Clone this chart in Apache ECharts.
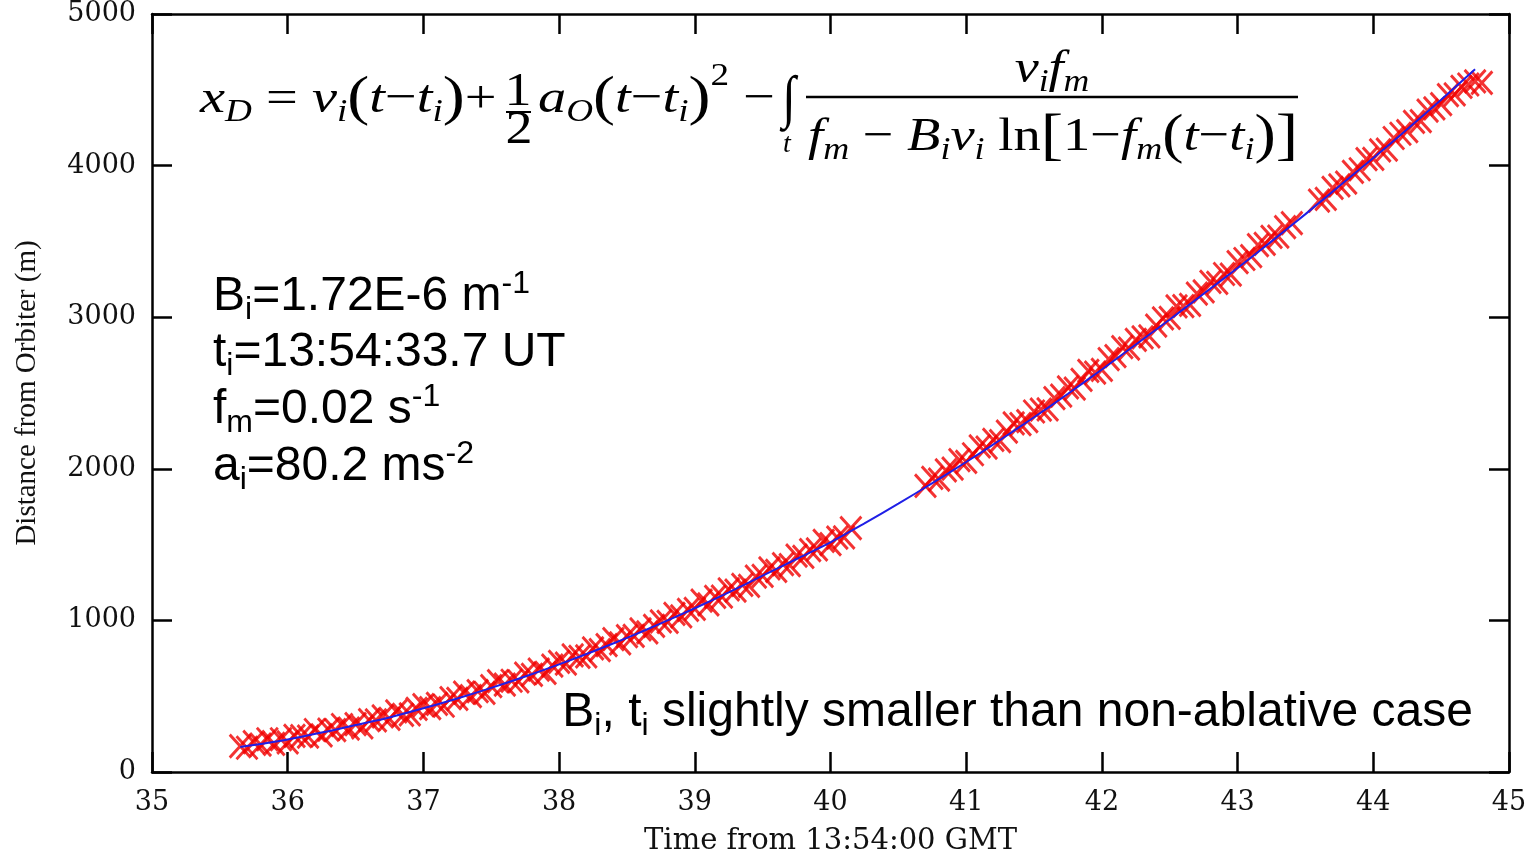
<!DOCTYPE html>
<html><head><meta charset="utf-8">
<script src="https://cdn.jsdelivr.net/npm/echarts@6/dist/echarts.min.js"></script>
<style>html,body{margin:0;padding:0;background:#fff}#c{width:1539px;height:853px}</style>
</head><body><div id="c"></div>
<script>
// ---- data ----
const xTickValues = [35, 36, 37, 38, 39, 40, 41, 42, 43, 44, 45];
const yTickValues = [0, 1000, 2000, 3000, 4000, 5000];

// observed positions (red crosses): time (s after 13:54:00) and distance (m)
const obsTime1 = [35.65,35.7,35.75,35.8,35.85,35.9,35.95,36,36.05,36.1,36.15,36.2,36.25,36.3,36.35,36.4,36.45,36.5,36.55,36.6,36.65,36.7,36.75,36.8,36.85,36.9,36.95,37,37.05,37.1,37.15,37.2,37.25,37.3,37.35,37.4,37.45,37.5,37.55,37.6,37.65,37.7,37.75,37.8,37.85,37.9,37.95,38,38.05,38.1,38.15,38.2,38.25,38.3,38.35,38.4,38.45,38.5,38.55,38.6,38.65,38.7,38.75,38.8,38.85,38.9,38.95,39,39.05,39.1,39.15,39.2,39.25,39.3,39.35,39.4,39.45,39.5,39.55,39.6,39.65,39.7,39.75,39.8,39.85,39.9,39.95,40,40.05,40.1,40.15];
const obsDist1 = [170,160,197,180,216,186,216,195,238,236,233,277,242,280,276,310,286,316,295,342,340,367,350,400,377,380,417,441,422,450,437,487,482,523,500,534,522,566,600,577,602,598,649,641,675,654,702,726,715,769,759,763,816,804,837,876,849,896,898,941,921,964,994,990,1043,1026,1069,1076,1130,1106,1155,1157,1205,1196,1234,1228,1289,1294,1343,1326,1371,1364,1427,1419,1464,1468,1524,1503,1546,1548,1608];
const obsTime2 = [40.7,40.75,40.8,40.85,40.9,40.95,41,41.05,41.1,41.15,41.2,41.25,41.3,41.35,41.4,41.45,41.5,41.55,41.6,41.65,41.7,41.75,41.8,41.85,41.9,41.95,42,42.05,42.1,42.15,42.2,42.25,42.3,42.35,42.4,42.45,42.5,42.55,42.6,42.65,42.7,42.75,42.8,42.85,42.9,42.95,43,43.05,43.1,43.15,43.2,43.25,43.3,43.35,43.4];
const obsDist2 = [1888,1940,1928,1989,2001,2057,2045,2096,2148,2140,2191,2182,2245,2300,2295,2315,2378,2391,2392,2466,2482,2537,2529,2586,2646,2635,2652,2724,2743,2802,2793,2850,2867,2874,2945,2992,2995,3071,3073,3081,3155,3171,3233,3227,3285,3281,3363,3384,3403,3476,3483,3530,3532,3594,3620];
const obsTime3 = [43.6,43.65,43.7,43.75,43.8,43.85,43.9,43.95,44,44.05,44.1,44.15,44.2,44.25,44.3,44.35,44.4,44.45,44.5,44.55,44.6,44.65,44.7,44.75,44.8];
const obsDist3 = [3769,3781,3853,3870,3887,3959,3976,4043,4045,4100,4106,4182,4210,4228,4289,4293,4362,4378,4405,4465,4470,4520,4535,4555,4545];

// fitted model (blue line)
const fitTime = [35.65,36,36.25,36.5,36.75,37,37.25,37.5,37.75,38,38.25,38.5,38.75,39,39.25,39.5,39.75,40,40.25,40.5,40.75,41,41.25,41.5,41.75,42,42.25,42.5,42.75,43,43.25,43.5,43.75,44,44.25,44.5,44.75];
const fitDist = [165,215,260,310,360,420,485,555,630,710,795,885,980,1080,1185,1295,1405,1515,1640,1770,1905,2045,2190,2340,2495,2655,2820,2985,3155,3325,3500,3680,3865,4050,4240,4435,4635];

// ---- build ----
const zip = (a, b) => a.map((v, i) => [v, b[i]]);
const obsData = zip(obsTime1, obsDist1).concat(zip(obsTime2, obsDist2), zip(obsTime3, obsDist3));
const fitData = zip(fitTime, fitDist);

const chart = echarts.init(document.getElementById('c'), null, {renderer: 'canvas'});

const AXC = '#000';
const axisCommon = {
  axisLine: {show: true, onZero: false, lineStyle: {color: AXC, width: 2.5}},
  axisTick: {show: true, inside: true, length: 20, lineStyle: {color: AXC, width: 2.5}},
  splitLine: {show: false}
};
const tickFont = {color: '#111', fontFamily: 'DejaVu Serif', fontSize: 27, formatter: v => String(v)};

// rich text styles
const SER = 'Liberation Serif';
const eqRich = {
  i: {fontFamily: SER, fontStyle: 'italic', fontSize: 47, color: '#000'},
  n: {fontFamily: SER, fontSize: 47, color: '#000'},
  pa: {fontFamily: SER, fontSize: 55, color: '#000'},
  bk: {fontFamily: SER, fontSize: 58, color: '#000'},
  ig: {fontFamily: SER, fontSize: 58, color: '#000'},
  s: {fontFamily: SER, fontStyle: 'italic', fontSize: 31, color: '#000', padding: [26, 0, 0, 0]},
  p: {fontFamily: SER, fontSize: 31, color: '#000', padding: [0, 0, 46, 0]}
};
const SAN = 'Liberation Sans';
const anRich = {
  m: {fontFamily: SAN, fontSize: 48, color: '#000'},
  s: {fontFamily: SAN, fontSize: 32, color: '#000', padding: [26, 0, 0, 0]},
  p: {fontFamily: SAN, fontSize: 32, color: '#000', padding: [0, 0, 26, 0]}
};
function eqText(x, y, text, align, sx) {
  return {type: 'text', x: x, y: y, scaleX: sx || 1.15, z: 100,
    style: {text: text, rich: eqRich, align: align || 'left', verticalAlign: 'middle', fill: '#000'}};
}
function anText(x, y, text, align) {
  return {type: 'text', x: x, y: y, z: 100,
    style: {text: text, rich: anRich, align: align || 'left', verticalAlign: 'middle', fill: '#000'}};
}

const option = {
  animation: false,
  backgroundColor: '#fff',
  grid: {left: 152, top: 14, right: 30, bottom: 81, containLabel: false, outerBoundsMode: 'none'},
  xAxis: [
    Object.assign({}, axisCommon, {
      type: 'value', position: 'bottom', min: 35, max: 45, interval: 1,
      axisLabel: Object.assign({margin: 17}, tickFont),
      name: 'Time from 13:54:00 GMT', nameLocation: 'middle', nameGap: 55,
      nameTextStyle: {color: '#111', fontFamily: 'DejaVu Serif', fontSize: 29}
    }),
    Object.assign({}, axisCommon, {
      type: 'value', position: 'top', min: 35, max: 45, interval: 1,
      axisLabel: {show: false}
    })
  ],
  yAxis: [
    Object.assign({}, axisCommon, {
      type: 'value', position: 'left', min: 0, max: 5000, interval: 1000,
      axisLabel: Object.assign({margin: 16}, tickFont),
      name: 'Distance from Orbiter (m)', nameLocation: 'middle', nameGap: 110,
      nameTextStyle: {color: '#111', fontFamily: SER, fontSize: 29}
    }),
    Object.assign({}, axisCommon, {
      type: 'value', position: 'right', min: 0, max: 5000, interval: 1000,
      axisLabel: {show: false}
    })
  ],
  series: [
    {
      type: 'scatter', xAxisIndex: 0, yAxisIndex: 0, data: obsData, z: 2,
      symbol: 'path://M0,0L20,20M20,0L0,20', symbolSize: [21, 23],
      itemStyle: {color: '#ff0000', borderColor: '#f00000', borderWidth: 3}
    },
    {
      type: 'line', xAxisIndex: 0, yAxisIndex: 0, data: fitData, z: 3,
      smooth: 0.3, symbol: 'none',
      lineStyle: {color: '#1f1fe6', width: 2}
    }
  ],
  graphic: [
    eqText(200, 100, '{i|x}{s|D}{n| = }{i|v}{s|i}{pa|(}{i|t}{n|−}{i|t}{s|i}{pa|)}{n|+}', 'left', 1.2),
    eqText(518, 93, '{n|1}', 'center'),
    eqText(519, 131, '{n|2}', 'center'),
    {type: 'line', z: 100, shape: {x1: 506, y1: 112, x2: 531, y2: 112}, style: {stroke: '#000', lineWidth: 2}},
    eqText(538, 100, '{i|a}{s|O}{pa|(}{i|t}{n|−}{i|t}{s|i}{pa|)}{p|2}{n| −}', 'left', 1.2),
    eqText(789, 101, '{ig|∫}', 'center', 0.85),
    {type: 'text', x: 787, y: 145, z: 100, style: {text: 't', font: 'italic 28px "Liberation Serif"', align: 'center', verticalAlign: 'middle', fill: '#000'}},
    eqText(1052, 70, '{i|v}{s|i}{i|f}{s|m}', 'center'),
    {type: 'line', z: 100, shape: {x1: 806, y1: 97, x2: 1298, y2: 97}, style: {stroke: '#000', lineWidth: 2.5}},
    eqText(808, 138, '{i|f}{s|m}{n| − }{i|B}{s|i}{i|v}{s|i}{n| ln}{bk|[}{n|1−}{i|f}{s|m}{pa|(}{i|t}{n|−}{i|t}{s|i}{pa|)}{bk|]}', 'left', 1.16)
  ].concat([
    anText(213, 297, '{m|B}{s|i}{m|=1.72E-6 m}{p|-1}'),
    anText(213, 353, '{m|t}{s|i}{m|=13:54:33.7 UT}'),
    anText(213, 410, '{m|f}{s|m}{m|=0.02 s}{p|-1}'),
    anText(213, 467, '{m|a}{s|i}{m|=80.2 ms}{p|-2}'),
    anText(1473, 713, '{m|B}{s|i}{m|, t}{s|i}{m| slightly smaller than non-ablative case}', 'right')
  ])
};
chart.setOption(option);
</script>
</body></html>
